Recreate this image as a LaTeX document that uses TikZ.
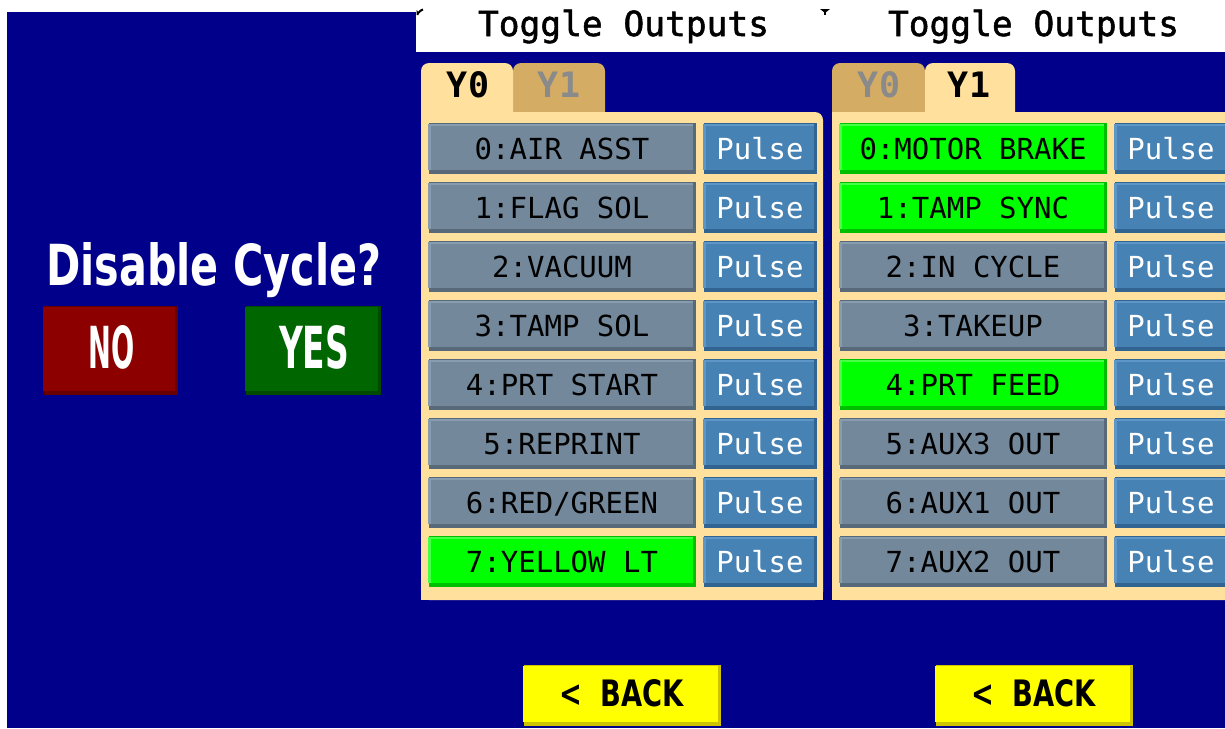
\documentclass[tikz,border=0pt]{standalone}
\usepackage{fontspec}
\usepackage{graphicx}
\setmainfont{DejaVu Sans}
\newfontfamily\monof{DejaVu Sans Mono}
\newfontfamily\condf{DejaVu Sans}
\definecolor{bgblue}{RGB}{0,0,139}
\definecolor{panelc}{RGB}{255,224,156}
\definecolor{tabin}{RGB}{212,172,100}
\definecolor{tabtxt}{RGB}{138,138,138}
\definecolor{gb}{RGB}{115,136,155}
\definecolor{gl}{RGB}{135,156,175}
\definecolor{gd}{RGB}{88,106,122}
\definecolor{lb}{RGB}{0,255,0}
\definecolor{ll}{RGB}{70,255,70}
\definecolor{ld}{RGB}{0,190,0}
\definecolor{pb}{RGB}{70,130,180}
\definecolor{pl}{RGB}{95,150,200}
\definecolor{pd}{RGB}{50,100,145}
\definecolor{yb}{RGB}{255,255,0}
\definecolor{yd}{RGB}{205,195,0}
\definecolor{nob}{RGB}{140,0,0}
\definecolor{nod}{RGB}{105,0,0}
\definecolor{yesb}{RGB}{0,102,0}
\definecolor{yesd}{RGB}{0,75,0}
\newcommand{\bvl}[7]{%
  \fill[#7] (#1+1,#2) rectangle (#3,#4);
  \fill[#6] (#1,#2+1) rectangle (#3-3,#4-4);
  \fill[#5] (#1+3,#2+3) rectangle (#3-3,#4-4);
}
\tikzset{
  lbltxt/.style={anchor=base,inner sep=0pt,text=black,font=\monof\fontsize{29}{29}\selectfont},
  pulsetxt/.style={anchor=base,inner sep=0pt,text=white,font=\monof\fontsize{29}{29}\selectfont},
  tabon/.style={anchor=base,inner sep=0pt,text=black,font=\monof\bfseries\fontsize{35}{35}\selectfont},
  taboff/.style={anchor=base,inner sep=0pt,text=tabtxt,font=\monof\bfseries\fontsize{35}{35}\selectfont},
  bigtxt/.style={inner sep=0pt,text=white},
  titletxt/.style={anchor=base,inner sep=0pt,text=black},
}
\begin{document}
\begin{tikzpicture}[x=1pt,y=-1pt]
\useasboundingbox (0,0) rectangle (1225,728);
\fill[white] (0,0) rectangle (1225,728);
\fill[bgblue] (7,12) rectangle (1225,728);
\fill[white] (416,0) rectangle (1225,52);
% tiny marks
\draw[black,line width=2pt] (417.5,15) -- (417.5,12.5) to[out=270,in=180] (423,9.5);
\fill[black] (820,9) -- (830,9) -- (825,13) -- cycle;
\fill[black] (824,9) rectangle (826,15);
% titles
\node[titletxt] (title1) at (623.5,36) {\resizebox{291pt}{!}{\monof\fontsize{30}{30}\selectfont\addfontfeatures{FakeBold=1.5}Toggle Outputs}};
\node[titletxt] (title2) at (1033.5,36) {\resizebox{291pt}{!}{\monof\fontsize{30}{30}\selectfont\addfontfeatures{FakeBold=1.5}Toggle Outputs}};
% left panel tabs
\fill[tabin,rounded corners=8] (513,63) rectangle (605,130);
\fill[panelc,rounded corners=8] (421,63) rectangle (513,130);
\fill[panelc,rounded corners=8] (421,112) rectangle (823,600);
\fill[panelc] (421,112) rectangle (450,140);
\fill[panelc] (421,580) rectangle (823,600);
\node[tabon] (ly0) at (468,97) {Y0};
\node[taboff] (ly1) at (559,97) {Y1};
% right panel tabs
\fill[tabin,rounded corners=8] (832,63) rectangle (925,130);
\fill[panelc,rounded corners=8] (925,63) rectangle (1015,130);
\fill[panelc,rounded corners=8] (832,112) rectangle (1240,600);
\fill[panelc] (832,112) rectangle (860,140);
\fill[panelc] (832,580) rectangle (1240,600);
\node[taboff] (ry0) at (879,97) {Y0};
\node[tabon] (ry1) at (969,97) {Y1};
% left rows
\foreach \i/\t/\cl in {0/{0:AIR ASST}/g,1/{1:FLAG SOL}/g,2/{2:VACUUM}/g,3/{3:TAMP SOL}/g,4/{4:PRT START}/g,5/{5:REPRINT}/g,6/{6:RED/GREEN}/g,7/{7:YELLOW LT}/l}{
  \pgfmathsetmacro{\yt}{123+59*\i}
  \pgfmathsetmacro{\yb}{\yt+51}
  \bvl{428}{\yt}{696}{\yb}{\cl b}{\cl l}{\cl d}
  \node[lbltxt] (L\i) at (562,\yt+36) {\t};
  \bvl{703}{\yt}{817}{\yb}{pb}{pl}{pd}
  \node[pulsetxt] (LP\i) at (760,\yt+36) {Pulse};
}
% right rows
\foreach \i/\t/\cl in {0/{0:MOTOR BRAKE}/l,1/{1:TAMP SYNC}/l,2/{2:IN CYCLE}/g,3/{3:TAKEUP}/g,4/{4:PRT FEED}/l,5/{5:AUX3 OUT}/g,6/{6:AUX1 OUT}/g,7/{7:AUX2 OUT}/g}{
  \pgfmathsetmacro{\yt}{123+59*\i}
  \pgfmathsetmacro{\yb}{\yt+51}
  \bvl{839}{\yt}{1107}{\yb}{\cl b}{\cl l}{\cl d}
  \node[lbltxt] (R\i) at (973,\yt+36) {\t};
  \bvl{1114}{\yt}{1228}{\yb}{pb}{pl}{pd}
  \node[pulsetxt] (RP\i) at (1171,\yt+36) {Pulse};
}
% Disable cycle
\node[bigtxt,anchor=base west] (q) at (46,285) {\resizebox{335pt}{43pt}{\condf\bfseries Disable Cycle?}};
\bvl{43}{306}{178}{395}{nob}{nob}{nod}
\node[bigtxt,anchor=base] (no) at (112,368) {\resizebox{46pt}{43pt}{\condf\bfseries NO}};
\bvl{245}{306}{381}{395}{yesb}{yesb}{yesd}
\node[bigtxt,anchor=base] (yes) at (314,368) {\resizebox{70pt}{43pt}{\condf\bfseries YES}};
% back buttons
\bvl{523}{665}{721}{726}{yb}{yb}{yd}
\node[anchor=base,inner sep=0pt,text=black] (back1) at (621.5,706) {\resizebox{125pt}{27pt}{\condf\bfseries <\ \ BACK}};
\bvl{935}{665}{1133}{726}{yb}{yb}{yd}
\node[anchor=base,inner sep=0pt,text=black] (back2) at (1033.5,706) {\resizebox{125pt}{27pt}{\condf\bfseries <\ \ BACK}};
\end{tikzpicture}
\end{document}
